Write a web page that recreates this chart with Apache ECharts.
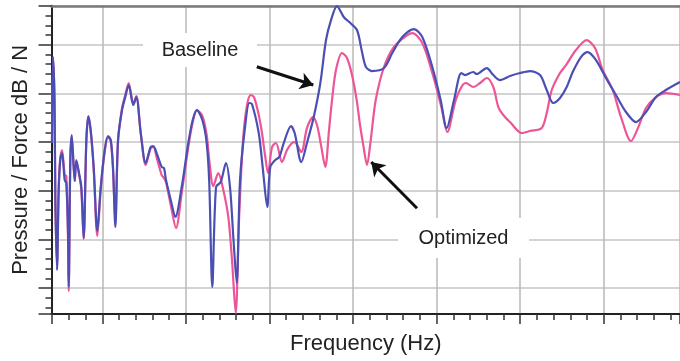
<!DOCTYPE html>
<html><head><meta charset="utf-8">
<script src="https://cdn.jsdelivr.net/npm/echarts@6/dist/echarts.min.js"></script>
<style>html,body{margin:0;padding:0;background:#fff}#c{width:680px;height:361px}</style>
</head><body><div id="c"></div>
<script>
// [frequency, level] pairs (arbitrary units: 10 per grid division)
const baseline = [[3.98,29.80],[4.10,47.47],[4.28,38.63],[4.38,18.08],[4.58,3.70],[4.78,20.14],[4.97,26.30],[5.18,27.74],[5.50,22.19],[5.69,21.58],[5.90,11.30],[5.98,0.21],[6.17,26.30],[6.34,31.44],[6.70,21.99],[6.89,26.30],[7.21,23.63],[7.49,20.76],[7.77,10.28],[8.09,30.41],[8.33,35.35],[8.61,32.47],[8.97,24.87],[9.40,11.71],[9.81,20.76],[10.29,28.36],[10.68,31.24],[11.01,30.41],[11.28,24.87],[11.56,12.54],[11.88,30.41],[12.36,36.58],[12.75,39.25],[13.16,41.72],[13.71,37.61],[14.07,39.25],[14.60,31.85],[15.19,25.69],[15.79,28.98],[16.10,29.18],[16.58,27.33],[17.11,24.87],[17.38,24.66],[17.62,22.19],[18.19,18.08],[18.74,14.59],[19.50,20.76],[20.29,29.80],[20.82,34.52],[21.30,36.58],[21.97,34.52],[22.49,29.80],[22.80,21.58],[23.16,0.21],[23.61,20.76],[24.17,21.78],[24.80,25.69],[25.28,20.76],[25.70,9.86],[26.08,1.03],[26.48,22.19],[27.08,33.09],[27.59,38.02],[27.91,37.81],[28.72,31.85],[29.19,24.87],[29.74,16.65],[30.10,24.87],[30.70,26.30],[31.18,26.92],[31.71,29.80],[32.58,33.29],[33.02,31.85],[33.81,25.89],[34.49,29.80],[35.30,35.14],[36.09,42.13],[36.77,50.96],[37.37,55.07],[38.08,57.95],[38.89,55.69],[39.68,54.46],[40.48,53.02],[41.08,48.50],[41.55,45.42],[42.27,44.59],[43.71,45.21],[44.70,48.29],[45.90,51.58],[47.30,53.22],[48.29,51.58],[49.49,45.42],[50.49,38.63],[51.21,32.88],[52.09,38.63],[52.96,44.18],[53.40,43.77],[54.39,44.39],[54.80,43.98],[56.00,45.21],[56.79,43.77],[57.59,42.74],[58.79,43.57],[59.98,44.18],[61.18,44.59],[62.38,43.77],[63.18,40.69],[63.97,38.02],[64.77,39.05],[65.57,41.31],[66.29,44.39],[67.28,47.47],[68.08,48.50],[69.08,46.85],[70.27,43.16],[71.47,39.66],[72.67,36.17],[73.86,34.11],[75.06,36.17],[76.26,39.25],[77.45,40.69],[79.13,42.33]];
const optimized = [[3.98,29.80],[4.10,47.47],[4.28,38.63],[4.38,18.08],[4.58,4.73],[4.78,20.55],[4.97,26.92],[5.18,28.36],[5.50,23.22],[5.69,23.02],[5.90,9.86],[5.98,-0.62],[6.17,25.89],[6.34,31.24],[6.70,21.99],[6.89,26.10],[7.21,23.43],[7.49,20.14],[7.77,10.07],[8.09,30.21],[8.33,35.14],[8.61,32.26],[8.97,24.25],[9.40,10.69],[9.81,20.14],[10.29,28.15],[10.68,31.03],[11.01,30.21],[11.28,24.25],[11.56,13.56],[11.88,30.00],[12.36,36.99],[12.75,39.66],[13.16,42.13],[13.71,37.81],[14.07,39.46],[14.60,31.85],[15.19,25.28],[15.79,28.77],[16.10,28.98],[16.58,26.30],[17.11,23.22],[17.38,22.61],[17.62,21.78],[18.19,17.06],[18.82,12.33],[19.50,19.52],[20.29,28.98],[20.82,34.11],[21.33,36.58],[21.97,35.35],[22.49,31.44],[22.80,26.30],[23.28,20.96],[23.88,23.63],[24.48,20.14],[25.08,14.59],[25.52,5.75],[25.96,-5.14],[26.36,13.97],[26.84,30.41],[27.32,37.61],[27.76,39.66],[28.15,39.25],[28.72,35.55],[29.11,31.85],[29.47,27.33],[29.83,23.63],[30.31,28.98],[30.78,29.80],[31.50,25.89],[32.10,28.36],[32.70,29.80],[33.02,30.00],[33.81,27.95],[34.49,32.88],[35.21,35.14],[35.69,33.50],[36.17,29.39],[36.68,24.87],[37.13,32.47],[37.49,38.63],[37.96,44.80],[38.68,48.29],[39.28,47.27],[39.88,43.77],[40.44,38.63],[40.84,33.50],[41.23,29.39],[41.67,25.28],[42.12,30.41],[42.72,38.63],[43.71,45.42],[44.90,49.53],[46.50,51.99],[47.10,52.40],[48.29,50.35],[49.49,44.18],[50.57,37.20],[51.28,32.06],[52.29,38.63],[53.04,41.51],[53.52,42.13],[54.39,41.31],[55.20,42.13],[56.00,43.16],[56.79,41.31],[57.39,37.20],[57.98,35.55],[58.79,34.11],[60.19,31.85],[61.18,32.26],[62.58,32.88],[63.18,35.96],[63.78,40.69],[64.77,44.18],[65.49,45.83],[66.68,48.91],[67.96,50.96],[68.96,49.32],[69.88,44.80],[71.08,40.69],[72.07,35.14],[73.27,30.21],[74.10,32.88],[75.06,36.99],[76.26,39.25],[77.45,40.07],[79.13,39.66]];
const seriesNames = ['Baseline', 'Optimized'];
const axisTitles = ['Frequency (Hz)', 'Pressure / Force dB / N'];
const xRange = [3.92, 79.13];
const yRange = [-5.34, 58];
// annotation anchors in data units
const labelSpots = [[21.69, 48.91], [53.22, 10.28]];
const arrowBaseline = [[28.48, 45.48], [35.25, 41.72]];
const arrowOptimized = [[47.66, 16.38], [42.18, 25.89]];

const FONT = 'Liberation Sans, Arial, sans-serif';
const chart = echarts.init(document.getElementById('c'), null, {renderer: 'canvas'});
const tickStyle = {color: '#333', width: 1.5};
chart.setOption({
  animation: false,
  backgroundColor: '#fff',
  grid: {left: 51.5, right: 0, top: 5.8, bottom: 47},
  xAxis: [{
    type: 'value', min: xRange[0], max: xRange[1], splitNumber: 7,
    name: axisTitles[0], nameLocation: 'middle', nameGap: 19,
    nameTextStyle: {fontFamily: FONT, fontSize: 22, color: '#222'},
    axisLine: {onZero: false, lineStyle: {color: '#222', width: 2}},
    axisTick: {show: true, length: 10, lineStyle: tickStyle},
    minorTick: {show: true, splitNumber: 5, length: 6, lineStyle: tickStyle},
    axisLabel: {show: false},
    splitLine: {show: true, lineStyle: {color: '#b8b8b8', width: 1.5}}
  }, {
    type: 'value', position: 'top', min: xRange[0], max: xRange[1],
    axisLine: {show: true, onZero: false, lineStyle: {color: '#7a7a7a', width: 2.5}},
    axisTick: {show: false}, axisLabel: {show: false}, splitLine: {show: false}
  }],
  yAxis: {
    type: 'value', min: yRange[0], max: yRange[1], splitNumber: 6,
    name: axisTitles[1], nameLocation: 'middle', nameGap: 20,
    nameTextStyle: {fontFamily: FONT, fontSize: 22, color: '#222'},
    axisLine: {show: true, onZero: false, lineStyle: {color: '#222', width: 2}},
    axisTick: {show: true, length: 13, lineStyle: tickStyle},
    minorTick: {show: true, splitNumber: 5, length: 6, lineStyle: tickStyle},
    axisLabel: {show: false},
    splitLine: {show: true, lineStyle: {color: '#c4c4c4', width: 1.5}}
  },
  series: [{
    name: seriesNames[1], type: 'line', data: optimized, showSymbol: false, symbol: 'none',
    smooth: 0.3, lineStyle: {color: '#ee5596', width: 2.2}, z: 2,
    markLine: {
      silent: true, symbol: ['none', 'arrow'], symbolSize: 13,
      lineStyle: {color: '#111', width: 3, type: 'solid'}, label: {show: false},
      data: [
        [{coord: arrowBaseline[0]}, {coord: arrowBaseline[1]}],
        [{coord: arrowOptimized[0]}, {coord: arrowOptimized[1]}]
      ]
    }
  }, {
    name: seriesNames[0], type: 'line', data: baseline, showSymbol: false, symbol: 'none',
    smooth: 0.3, lineStyle: {color: '#4b4fb4', width: 2.2}, z: 3,
    markPoint: {
      silent: true, symbol: 'rect',
      itemStyle: {color: '#fff'},
      label: {show: true, position: 'inside', fontFamily: FONT, fontSize: 20, color: '#222'},
      data: [
        {coord: labelSpots[0], symbolSize: [114, 34], value: seriesNames[0], label: {formatter: seriesNames[0]}},
        {coord: labelSpots[1], symbolSize: [131, 40], value: seriesNames[1], label: {formatter: seriesNames[1]}}
      ]
    }
  }]
});
</script></body></html>
